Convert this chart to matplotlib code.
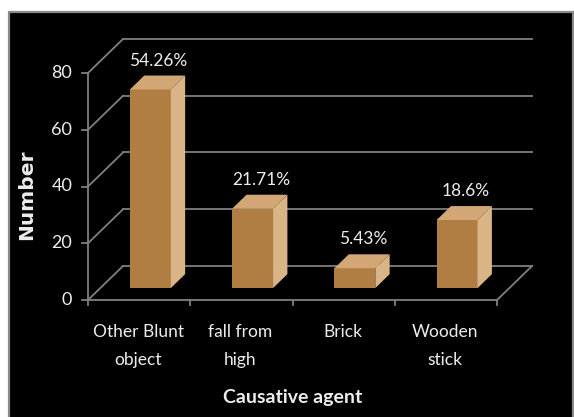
import matplotlib
matplotlib.use("Agg")
import matplotlib.pyplot as plt
from matplotlib.patches import Rectangle, Polygon

# data
categories = ["Other Blunt\nobject", "fall from\nhigh", "Brick", "Wooden\nstick"]
counts = [70, 28, 7, 24]
pct_labels = ["54.26%", "21.71%", "5.43%", "18.6%"]
yticks = [0, 20, 40, 60, 80]

# colours
front_c = "#B07E42"
top_c = "#D2A775"
side_c = "#D9B487"
grid_c = "#808080"
txt_c = "#EDEDED"
font = "Lato"

W, H = 574, 417
fig = plt.figure(figsize=(W / 100, H / 100), dpi=100)
fig.patch.set_facecolor("white")

# cropped caption above the panel, only its descenders show
fig.text(3 / W, 1 + 11 / H, "(Causative agent)", family="Liberation Serif",
         fontsize=26, color="black", va="baseline", ha="left", zorder=-3)

panel = Rectangle((9 / W, -0.02), (573 - 9) / W, (H - 12) / H + 0.02,
                  transform=fig.transFigure, fc="black", ec="#8a8a8a",
                  lw=1.6, zorder=-1)
fig.add_artist(panel)

# pixel layout: x=0 at 88px, 102.25px per category; y=0 at 300px, 2.8375px/unit
px_x, px_y = 102.25, 2.8375
ax = fig.add_axes([0, 0, 1, 1])
ax.set_xlim(-88 / px_x, (W - 88) / px_x)
ax.set_ylim(-(H - 300) / px_y, 300 / px_y)
ax.axis("off")
ax.patch.set_alpha(0)

# 3d depth of the floor (full depth shift)
DX, DY = 35 / px_x, 34 / px_y
n = len(categories)
lw = 1.3

# back wall gridlines and left diagonals
for v in yticks:
    ax.plot([DX, n + DX], [v + DY, v + DY], color=grid_c, lw=lw, zorder=1)
    ax.plot([0, DX], [v, v + DY], color=grid_c, lw=lw, zorder=1)
    ax.plot([-0.06, 0], [v, v], color=grid_c, lw=lw, zorder=1)
    ax.text(-0.155, v, str(v), color=txt_c, fontsize=13, family=font,
            ha="right", va="center")
ax.plot([n, n + DX], [0, DY], color=grid_c, lw=lw, zorder=1)
ax.plot([0, 0], [0, yticks[-1]], color=grid_c, lw=lw, zorder=1)
ax.plot([0, n], [0, 0], color=grid_c, lw=lw, zorder=1)
for i in range(n + 1):
    ax.plot([i, i], [0, -1.9], color=grid_c, lw=lw, zorder=1)

# bars
d0, dd = 0.35, 0.41
bw = 0.40
for i, (v, lab) in enumerate(zip(counts, pct_labels)):
    x0 = i + 0.49 - bw / 2 + d0 * DX
    x1 = x0 + bw
    b = d0 * DY
    t = b + v
    sx, sy = dd * DX, dd * DY
    ax.add_patch(Rectangle((x0, b), bw, v, fc=front_c, ec="none", zorder=3))
    ax.add_patch(Polygon([(x0, t), (x1, t), (x1 + sx, t + sy), (x0 + sx, t + sy)],
                         closed=True, fc=top_c, ec="none", zorder=3))
    ax.add_patch(Polygon([(x1, b), (x1, t), (x1 + sx, t + sy), (x1 + sx, b + sy)],
                         closed=True, fc=side_c, ec="none", zorder=3))
    ax.text(i + 0.69, t + sy + 2.4, lab, color=txt_c, fontsize=12.5, family=font,
            ha="center", va="bottom", zorder=4)

# category labels
for i, cat in enumerate(categories):
    for k, line in enumerate(cat.split("\n")):
        ax.text(i + 0.49, -(332 - 300 + 28 * k) / px_y, line, color=txt_c,
                fontsize=12.5, family=font, ha="center", va="center")

ax.text(-0.6, 37, "Number", color=txt_c, fontsize=14.5, family="DejaVu Sans",
        fontweight="bold", rotation=90, ha="center", va="center")
ax.text(2.0, -(398 - 300) / px_y, "Causative agent", color=txt_c, fontsize=14,
        family=font, fontweight="bold", ha="center", va="center")

fig.savefig("out.png", dpi=100, facecolor=fig.get_facecolor())
